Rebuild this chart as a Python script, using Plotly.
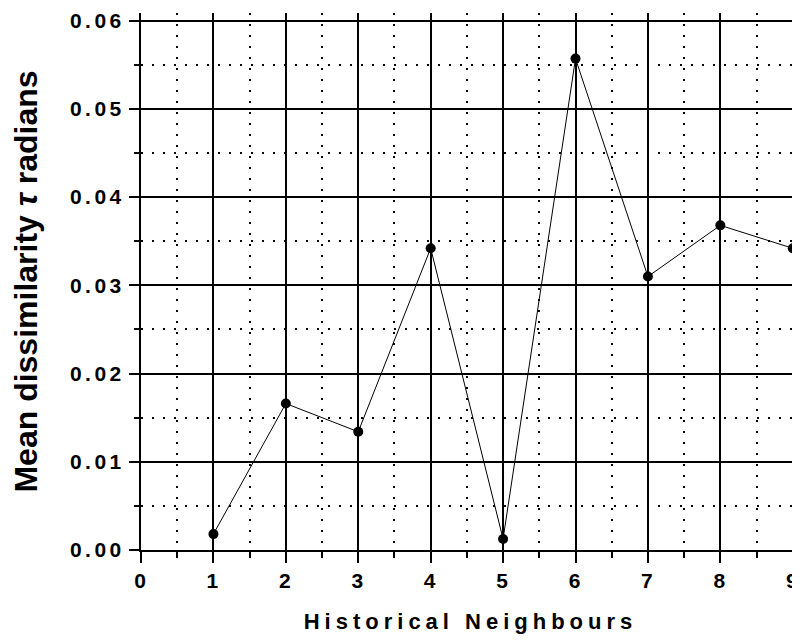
import plotly.graph_objects as go

neighbours = [1, 2, 3, 4, 5, 6, 7, 8, 9]
dissimilarity = [0.0018, 0.0166, 0.0134, 0.0342, 0.00125, 0.0557, 0.0310, 0.0368, 0.0342]

x_tick_vals = [0, 1, 2, 3, 4, 5, 6, 7, 8, 9]
x_tick_labels = ["0", "1", "2", "3", "4", "5", "6", "7", "8", "9"]
y_tick_vals = [0.00, 0.01, 0.02, 0.03, 0.04, 0.05, 0.06]
y_tick_labels = ["0.00", "0.01", "0.02", "0.03", "0.04", "0.05", "0.06"]

x_title = "Historical Neighbours"
y_title = "Mean dissimilarity <i>τ</i> radians"

def spaced(t, px):
    return '<span style="letter-spacing:%spx">%s</span>' % (px, t)

fig = go.Figure()
fig.add_trace(go.Scatter(
    x=neighbours, y=dissimilarity, mode="lines+markers",
    line=dict(color="black", width=1),
    marker=dict(color="black", size=10, symbol="circle"),
    showlegend=False,
    cliponaxis=False,
))

font_family = "Liberation Sans, Arial, sans-serif"

fig.update_layout(
    width=800, height=640,
    margin=dict(l=133, r=8, t=5, b=98, autoexpand=False),
    plot_bgcolor="white", paper_bgcolor="white",
    font=dict(family=font_family, color="black"),
    xaxis=dict(
        range=[0, 9.1], automargin=False,
        tickmode="array", tickvals=x_tick_vals,
        ticktext=[spaced(t, 2) for t in x_tick_labels],
        tickfont=dict(size=21, family=font_family, weight="bold"),
        ticks="outside", ticklen=11, tickwidth=2, tickcolor="black",
        showline=True, linecolor="black", linewidth=2,
        showgrid=True, gridcolor="black", gridwidth=2, zeroline=False,
        minor=dict(dtick=0.5, tick0=0, showgrid=True, gridcolor="black", gridwidth=2,
                   griddash="2px,9px", ticks="outside", ticklen=6, tickwidth=2,
                   tickcolor="black"),
        title=dict(text=spaced(x_title, 5), standoff=22,
                   font=dict(size=22, family=font_family, weight="bold")),
    ),
    yaxis=dict(
        range=[0, 0.06087], automargin=False,
        tickmode="array", tickvals=y_tick_vals,
        ticktext=[spaced(t, 3.5) for t in y_tick_labels],
        tickfont=dict(size=21, family=font_family, weight="bold"),
        ticks="outside", ticklen=10, tickwidth=2, tickcolor="black",
        showline=True, linecolor="black", linewidth=2,
        showgrid=True, gridcolor="black", gridwidth=2, zeroline=False,
        minor=dict(dtick=0.005, tick0=0, showgrid=True, gridcolor="black", gridwidth=2,
                   griddash="2px,9px", ticks="outside", ticklen=5, tickwidth=2,
                   tickcolor="black"),
        title=dict(text=y_title, standoff=25,
                   font=dict(size=32, family=font_family, weight="bold")),
    ),
)

fig.write_html("out.html")
